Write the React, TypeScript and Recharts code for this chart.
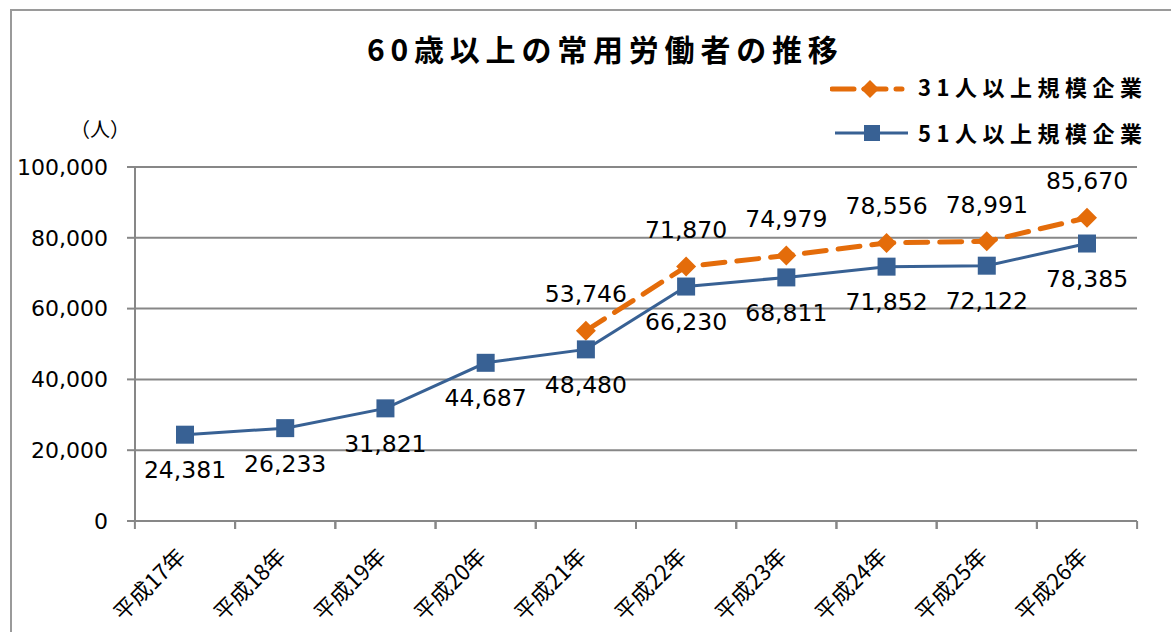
import { CartesianGrid, Legend, Line, LineChart, XAxis, YAxis } from 'recharts';

const years = ['平成17年', '平成18年', '平成19年', '平成20年', '平成21年', '平成22年', '平成23年', '平成24年', '平成25年', '平成26年'];
const over31 = [null, null, null, null, 53746, 71870, 74979, 78556, 78991, 85670];
const over51 = [24381, 26233, 31821, 44687, 48480, 66230, 68811, 71852, 72122, 78385];
const yTicks = [0, 20000, 40000, 60000, 80000, 100000];

const data = years.map((year, i) => ({ year, over31: over31[i], over51: over51[i] }));

const ORANGE = '#E46C0A';
const BLUE = '#386194';
const GRID = '#878787';
const NUM_FONT = '"DejaVu Sans", Verdana, sans-serif';
const JP_FONT = '"Noto Sans CJK JP", sans-serif';
const HALF = 50.1;

const fmt = (v: number) => v.toLocaleString('en-US');

function XTick(props: any) {
	const { x, y, payload } = props;
	return (
		<g>
			<line x1={x - HALF} y1={y} x2={x - HALF} y2={y + 8} stroke={GRID} strokeWidth={2} />
			<line x1={x + HALF} y1={y} x2={x + HALF} y2={y + 8} stroke={GRID} strokeWidth={2} />
			<text
				x={x + 2}
				y={y + 37}
				textAnchor='end'
				transform={`rotate(-45 ${x + 2} ${y + 37})`}
				fontSize={22}
				fontFamily={JP_FONT}
				fill='#000'
			>
				{payload.value}
			</text>
		</g>
	);
}

function Square(props: any) {
	const { cx, cy, index } = props;
	if (cx == null || cy == null) return <g key={index} />;
	return <rect key={index} x={cx - 9} y={cy - 9} width={18} height={18} fill={BLUE} />;
}

function Diamond(props: any) {
	const { cx, cy, index, value } = props;
	if (cx == null || cy == null || value == null) return <g key={index} />;
	const r = 10;
	return <path key={index} d={`M${cx} ${cy - r}L${cx + r} ${cy}L${cx} ${cy + r}L${cx - r} ${cy}Z`} fill={ORANGE} />;
}

function labelBelow(props: any) {
	const { x, y, value, index } = props;
	if (value == null) return <g key={index} />;
	return (
		<text key={index} x={x} y={y + 37} textAnchor='middle' dominantBaseline='middle' fontSize={23.5} fontFamily={NUM_FONT} fill='#000'>
			{fmt(value)}
		</text>
	);
}

function labelAbove(props: any) {
	const { x, y, value, index } = props;
	if (value == null) return <g key={index} />;
	return (
		<text key={index} x={x} y={y - 35} textAnchor='middle' dominantBaseline='middle' fontSize={23.5} fontFamily={NUM_FONT} fill='#000'>
			{fmt(value)}
		</text>
	);
}

function LegendBox() {
	const text = { fontFamily: JP_FONT, fontWeight: 700, fontSize: 22, letterSpacing: 5.5, color: '#000', lineHeight: '26px', whiteSpace: 'nowrap' as const };
	return (
		<div style={{ position: 'relative', width: 340, height: 70 }}>
			<svg width={80} height={70} style={{ position: 'absolute', left: 0, top: 0 }}>
				<line x1={2} y1={15} x2={72} y2={15} stroke={ORANGE} strokeWidth={5} strokeDasharray='22 10' strokeLinecap='round' />
				<path d='M40 6L49 15L40 24L31 15Z' fill={ORANGE} />
				<line x1={5} y1={59} x2={78} y2={59} stroke={BLUE} strokeWidth={3} />
				<rect x={34} y={51} width={16} height={16} fill={BLUE} />
			</svg>
			<div style={{ ...text, position: 'absolute', left: 88, top: -1 }}>31人以上規模企業</div>
			<div style={{ ...text, position: 'absolute', left: 88, top: 45 }}>51人以上規模企業</div>
		</div>
	);
}

export default function App() {
	return (
		<div style={{ position: 'absolute', left: 0, top: 0, width: 1171, height: 632, overflow: 'hidden', background: '#fff' }}>
			<div style={{ position: 'absolute', left: 10, top: 9, width: 1200, height: 700, border: '2px solid #9a9a9a' }} />
			<div
				style={{
					position: 'absolute',
					left: 367,
					top: 30,
					fontFamily: JP_FONT,
					fontWeight: 700,
					fontSize: 30,
					lineHeight: '36px',
					letterSpacing: 5.8,
					whiteSpace: 'nowrap',
				}}
			>
				60歳以上の常用労働者の推移
			</div>
			<div style={{ position: 'absolute', left: 70, top: 116, fontFamily: JP_FONT, fontSize: 20, lineHeight: '26px' }}>（人）</div>
			<div style={{ position: 'absolute', left: 0, top: 0 }}>
				<LineChart width={1171} height={632} data={data} margin={{ top: 167, right: 34, bottom: 11, left: 35 }}>
					<CartesianGrid vertical={false} stroke={GRID} strokeWidth={2} />
					<XAxis
						dataKey='year'
						padding={{ left: 50, right: 50 }}
						height={100}
						interval={0}
						tickLine={false}
						tickSize={0}
						tickMargin={0}
						axisLine={{ stroke: GRID, strokeWidth: 2 }}
						tick={<XTick />}
					/>
					<YAxis
						width={100}
						domain={[0, 100000]}
						ticks={yTicks}
						tickFormatter={fmt}
						tickSize={8}
						tickMargin={19}
						axisLine={{ stroke: GRID, strokeWidth: 2 }}
						tickLine={{ stroke: GRID, strokeWidth: 2 }}
						tick={{ fill: '#000', fontSize: 22, fontFamily: NUM_FONT }}
					/>
					<Legend
						layout='vertical'
						align='center'
						verticalAlign='middle'
						content={<LegendBox />}
						wrapperStyle={{ position: 'absolute', left: 830, top: 74, width: 340 }}
					/>
					<Line
						dataKey='over31'
						name='31人以上規模企業'
						stroke={ORANGE}
						strokeWidth={5}
						strokeDasharray='22 12'
						strokeLinecap='round'
						dot={Diamond}
						activeDot={false}
						label={labelAbove}
						isAnimationActive={false}
					/>
					<Line
						dataKey='over51'
						name='51人以上規模企業'
						stroke={BLUE}
						strokeWidth={3}
						dot={Square}
						activeDot={false}
						label={labelBelow}
						isAnimationActive={false}
					/>
				</LineChart>
			</div>
		</div>
	);
}
